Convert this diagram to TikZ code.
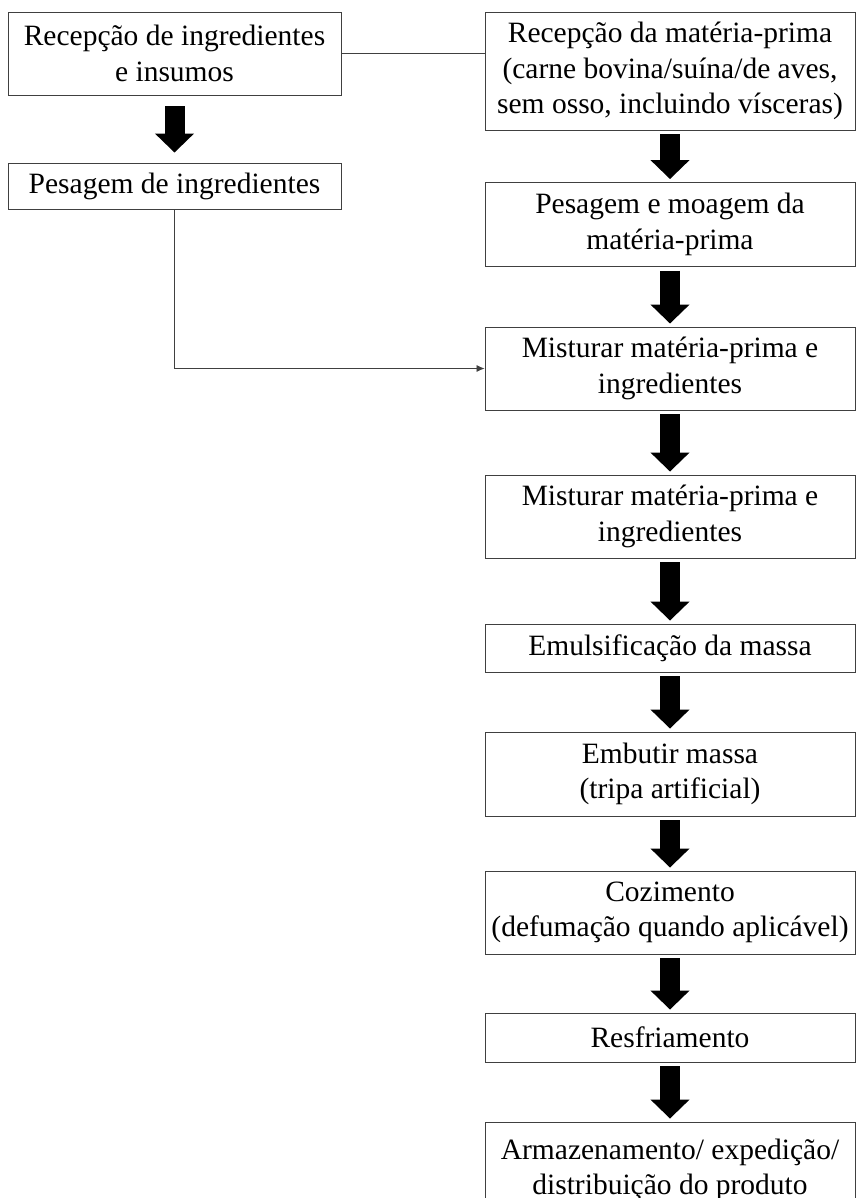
\documentclass[tikz,border=0pt]{standalone}
\usepackage{fontspec}
\setmainfont{Liberation Serif}
\usetikzlibrary{arrows.meta,positioning}

\begin{document}
\begin{tikzpicture}[x=1pt,y=-1pt,
    caixa/.style={draw=black!75, line width=0.9pt, align=center, inner sep=0pt,
        font=\fontsize{29.5}{35.5}\selectfont},
    esq/.style={caixa, minimum width=333pt},
    dir/.style={caixa, minimum width=370pt},
    seta/.style={line width=20pt, -{Triangle[width=38pt,length=19pt]},
        shorten <=4pt, shorten >=3pt},
    fio/.style={draw=black!75, line width=0.8pt}]
    \useasboundingbox (0,0) rectangle (857,1198);
    % 左列
    \node[esq, minimum height=83pt] (rec) at (174.5,53.5) {Recepção de ingredientes\\e insumos};
    \node[esq, minimum height=46pt] (pes) at (174.5,186) {Pesagem de ingredientes};
    % 右列
    \node[dir, minimum height=118pt] (mp) at (670,71) {Recepção da matéria-prima\\(carne bovina/suína/de aves,\\sem osso, incluindo vísceras)};
    \node[dir, minimum height=84pt] (moa) at (670,224.5) {Pesagem e moagem da\\matéria-prima};
    \node[dir, minimum height=83pt] (mis1) at (670,368.5) {Misturar matéria-prima e\\ingredientes};
    \node[dir, minimum height=83pt] (mis2) at (670,516.5) {Misturar matéria-prima e\\ingredientes};
    \node[dir, minimum height=48pt] (emu) at (670,648) {Emulsificação da massa};
    \node[dir, minimum height=84pt] (emb) at (670,774) {Embutir massa\\(tripa artificial)};
    \node[dir, minimum height=83pt] (coz) at (670,912.5) {Cozimento\\(defumação quando aplicável)};
    \node[dir, minimum height=49pt] (res) at (670,1037.5) {Resfriamento};
    \node[dir, minimum height=96pt] (arm) at (670,1170) {Armazenamento/ expedição/\\distribuição do produto};
    % 箭头
    \draw[seta, shorten <=11pt, shorten >=10pt] (rec) -- (pes);
    \foreach \a/\b in {mp/moa, moa/mis1, mis1/mis2, mis2/emu, emu/emb, emb/coz, coz/res, res/arm}
        \draw[seta] (\a) -- (\b);
    % 连线
    \draw[fio] (rec.east) -- (rec.east -| mp.west);
    \draw[fio, -{Latex[length=8pt,width=7pt]}] (pes.south) |- (mis1.west);
\end{tikzpicture}
\end{document}
